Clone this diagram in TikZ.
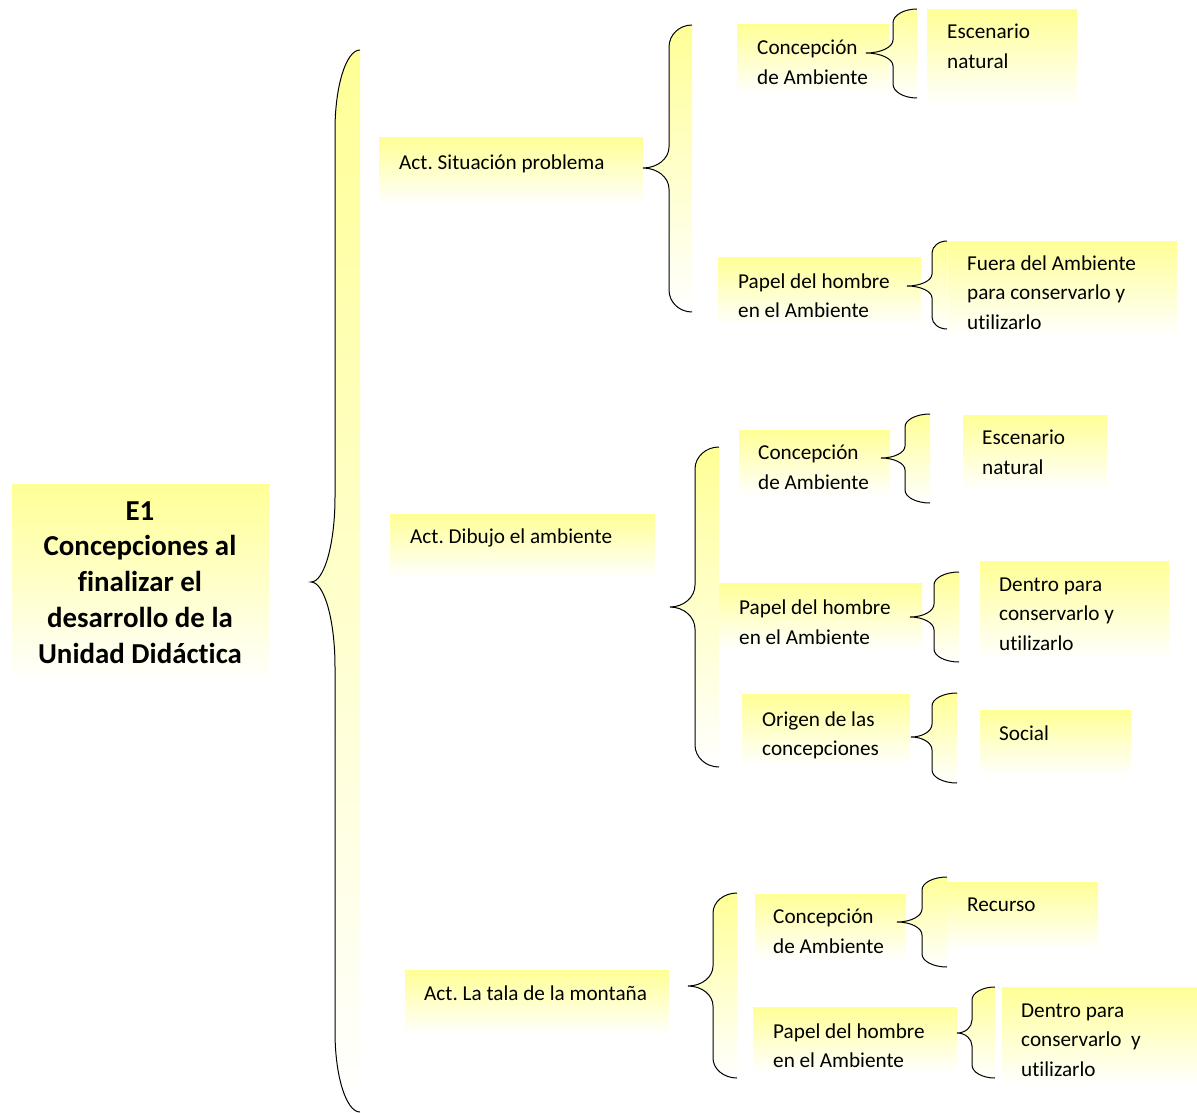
\documentclass[tikz,border=0pt]{standalone}
\usepackage{fontspec}
\setmainfont{Carlito}[Ligatures=NoCommon]
\frenchspacing
\definecolor{yel}{RGB}{255,255,150}
\newcommand\lns[1]{\begin{tabular}[t]{@{}l@{}}#1\end{tabular}}
\newcommand\ybox[5]{\node[box, minimum width={#4-#2}, minimum height={#5-#3}] (#1) at (#2,#3) {};}
\newcommand\bpath[8]{(#3,#4) .. controls ({#3-0.552*(#3-#2)},#4) and (#2,{#4+0.448*#7}) .. (#2,{#4+#7})
 -- (#2,{#5-#8}) .. controls (#2,{#5-0.448*#8}) and ({#1+0.552*(#2-#1)},#5) .. (#1,#5)
 .. controls ({#1+0.552*(#2-#1)},#5) and (#2,{#5+0.448*#8}) .. (#2,{#5+#8})
 -- (#2,{#6-#7}) .. controls (#2,{#6-0.448*#7}) and ({#3-0.552*(#3-#2)},#6) .. (#3,#6)}
\newcommand\ybrace[8]{\shade[top color=yel, bottom color=white] \bpath{#1}{#2}{#3}{#4}{#5}{#6}{#7}{#8} -- cycle;
 \draw[bracestroke] \bpath{#1}{#2}{#3}{#4}{#5}{#6}{#7}{#8};}
\tikzset{
  box/.style={rectangle, inner sep=0pt, outer sep=0pt, anchor=north west, top color=yel, bottom color=white, draw=none},
  lbl/.style={anchor=base west, inner sep=0pt, font=\fontsize{21.2}{29.5}\selectfont},
  ttl/.style={anchor=base, inner sep=0pt, font=\fontsize{28.9}{35.8}\selectfont\bfseries},
  bracestroke/.style={draw=black, line width=1pt},
}
\begin{document}
\begin{tikzpicture}[x=1pt,y=-1pt]
\useasboundingbox (0,0) rectangle (1197,1113);
% boxes
\ybox{root}{12}{484}{269}{684}
\ybox{s1}{379}{138}{643}{205}
\ybox{s2}{390}{514}{655}{578}
\ybox{s3}{405}{970}{669}{1035}
\ybox{c1}{737}{25}{889}{94}
\ybox{p1}{718}{257}{921}{326}
\ybox{c2}{739}{430}{890}{496}
\ybox{p2}{719}{583}{922}{650}
\ybox{o2}{742}{694}{910}{766}
\ybox{c3}{755}{894}{906}{960}
\ybox{p3}{753}{1007}{957}{1072}
\ybox{e1}{927}{10}{1077}{105}
\ybox{f1}{948}{241}{1177}{336}
\ybox{e2}{963}{415}{1107}{490}
\ybox{d2}{980}{561}{1169}{660}
\ybox{so}{980}{710}{1131}{775}
\ybox{r3}{947}{882}{1098}{950}
\ybox{d3}{1002}{987}{1197}{1085}
% braces
\ybrace{311}{335}{360}{50}{582}{1112}{80}{85}
\ybrace{643}{669}{692}{25}{168}{312}{22}{21}
\ybrace{670}{695}{719}{447}{607}{767}{22}{22}
\ybrace{688}{713}{737}{893}{986}{1078}{20}{20}
\ybrace{866}{893}{917}{9}{53}{98}{14}{13}
\ybrace{907}{932}{947}{241}{286}{329}{12}{12}
\ybrace{881}{905}{930}{414}{458}{503}{13}{12}
\ybrace{910}{934}{959}{572}{617}{662}{13}{13}
\ybrace{911}{932}{957}{693}{737}{783}{13}{13}
\ybrace{897}{922}{947}{877}{922}{967}{13}{13}
\ybrace{957}{972}{995}{987}{1033}{1078}{13}{13}
% texts
\node[ttl] (roott) at (140,520) {\begin{tabular}[t]{@{}c@{}}E1\\Concepciones al\\finalizar el\\desarrollo de la\\Unidad Didáctica\end{tabular}};
\node[lbl] (s1t) at (399,169.5) {\lns{Act. Situación problema}};
\node[lbl] (s2t) at (410,543.5) {\lns{Act. Dibujo el ambiente}};
\node[lbl] (s3t) at (424,1000.5) {\lns{Act. La tala de la montaña}};
\node[lbl] (c1t) at (757,55) {\lns{Concepción\\de Ambiente}};
\node[lbl] (p1t) at (738,288) {\lns{Papel del hombre\\en el Ambiente}};
\node[lbl] (c2t) at (758,459.5) {\lns{Concepción\\de Ambiente}};
\node[lbl] (p2t) at (739,614.5) {\lns{Papel del hombre\\en el Ambiente}};
\node[lbl] (o2t) at (762,726) {\lns{Origen de las\\concepciones}};
\node[lbl] (c3t) at (773,923.5) {\lns{Concepción\\de Ambiente}};
\node[lbl] (p3t) at (773,1038) {\lns{Papel del hombre\\en el Ambiente}};
\node[lbl] (e1t) at (947,39) {\lns{Escenario\\natural}};
\node[lbl] (f1t) at (967,270) {\lns{Fuera del Ambiente\\para conservarlo y\\utilizarlo}};
\node[lbl] (e2t) at (982,444.5) {\lns{Escenario\\natural}};
\node[lbl] (d2t) at (999,591) {\lns{Dentro para\\conservarlo y\\utilizarlo}};
\node[lbl] (sot) at (999,740) {\lns{Social}};
\node[lbl] (r3t) at (967,911) {\lns{Recurso}};
\node[lbl] (d3t) at (1021,1017) {\lns{Dentro para\\conservarlo\ \ y\\utilizarlo}};
\end{tikzpicture}
\end{document}
